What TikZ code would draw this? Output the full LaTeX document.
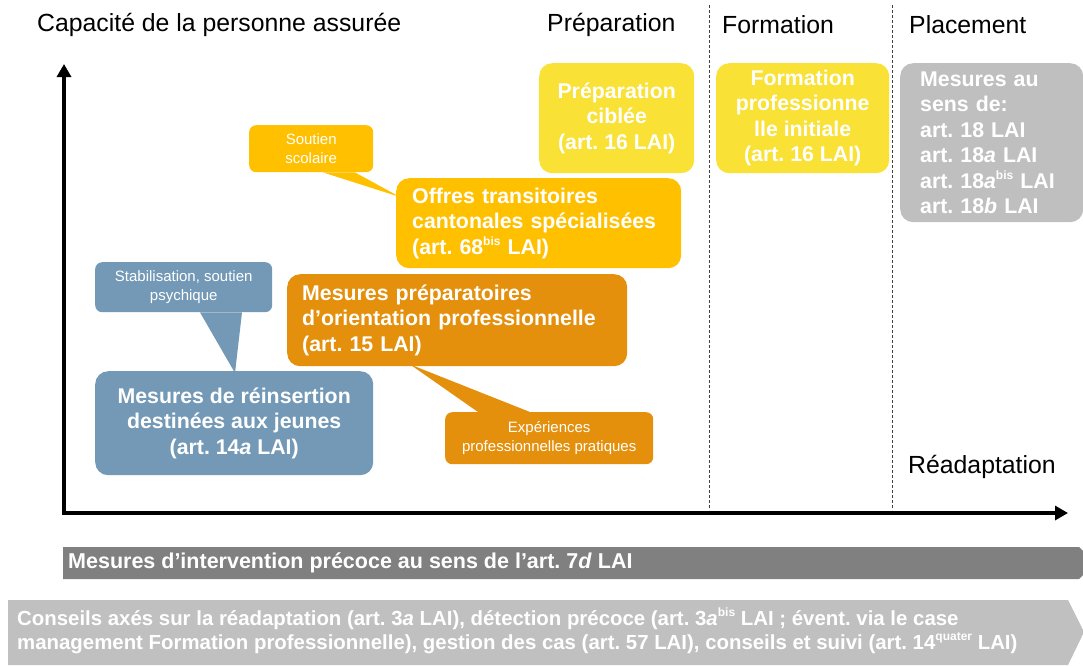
\documentclass[tikz,border=0pt]{standalone}
\usepackage{fontspec}
\setmainfont{Liberation Sans}
\usepackage{xcolor}
\usetikzlibrary{arrows.meta}

\definecolor{prepyellow}{RGB}{249,225,53}
\definecolor{offresorange}{RGB}{255,192,0}
\definecolor{orientorange}{RGB}{228,144,12}
\definecolor{jeunesblue}{RGB}{115,153,182}
\definecolor{placegray}{RGB}{191,191,191}
\definecolor{precocegray}{RGB}{128,128,128}
\definecolor{conseilgray}{RGB}{192,192,192}

\newcommand{\titlefont}{\fontsize{24.8}{28}\selectfont}
\newcommand{\boxfont}{\fontsize{21.3}{25.5}\selectfont\bfseries}
\newcommand{\notefont}{\fontsize{15}{18.5}\selectfont}
\newcommand{\barfont}{\fontsize{21.5}{25}\selectfont\bfseries}
\newcommand{\basefont}{\fontsize{20.4}{24}\selectfont\bfseries}
\newcommand{\exposant}[1]{\raisebox{0.42em}{\fontsize{12}{12}\selectfont #1}}

\begin{document}
\frenchspacing
\begin{tikzpicture}[x=1pt, y=-1pt,
    bigbox/.style={anchor=north west, rounded corners=13pt, text=white, font=\boxfont, inner sep=0pt},
    notebox/.style={anchor=north west, rounded corners=7pt, text=white, font=\notefont, inner sep=0pt, align=center},
    heading/.style={anchor=west, font=\titlefont, inner sep=0pt},
    sepline/.style={densely dashed, line width=1pt, black!75},
    axis/.style={line width=3.5pt, {Triangle[length=13pt,width=14pt]}-{Triangle[length=13pt,width=14pt]}}]

    \useasboundingbox (0,0) rectangle (1083,665);
    \clip (0,0) rectangle (1083,665);

    % headings
    \node[heading] (capacite) at (37,25) {Capacité de la personne assurée};
    \node[heading] (hprep) at (547,25) {Préparation};
    \node[heading] (hform) at (722,25) {Formation};
    \node[heading] (hplace) at (909,25) {Placement};
    \node[heading] (hreadapt) at (908,467) {Réadaptation};

    % phase separators
    \coordinate (sepA) at (709,5);
    \coordinate (sepA') at (709,510);
    \coordinate (sepB) at (892,5);
    \coordinate (sepB') at (892,510);
    \draw[sepline] (sepA) -- (sepA');
    \draw[sepline] (sepB) -- (sepB');

    % axes
    \coordinate (origin) at (64,513);
    \coordinate (ytip) at (64,64);
    \coordinate (xtip) at (1068,513);
    \draw[axis] (ytip) -- (origin) -- (xtip);

    % measures
    \node[bigbox, fill=prepyellow, align=center, minimum width=155pt, minimum height=110pt] (ciblee) at (539,63)
        {Préparation\\ciblée\\(art. 16 LAI)};
    \node[bigbox, fill=prepyellow, align=center, minimum width=173pt, minimum height=110pt] (initiale) at (716,63)
        {Formation\\professionne\\lle initiale\\(art. 16 LAI)};
    \node[bigbox, fill=placegray, align=left, text width=143pt, inner xsep=20pt, minimum height=159pt] (placement) at (900,63)
        {Mesures au\\sens de:\\art. 18 LAI\\art. 18\textit{a} LAI\\art. 18\textit{a}\exposant{bis} LAI\\art. 18\textit{b} LAI};
    \node[bigbox, fill=offresorange, align=left, text width=253pt, inner xsep=16pt, minimum height=90pt] (offres) at (396,178)
        {Offres transitoires\\cantonales spécialisées\\(art. 68\exposant{bis} LAI)};
    \node[bigbox, fill=orientorange, align=left, text width=310pt, inner xsep=15pt, minimum height=92pt] (orient) at (287,274)
        {Mesures préparatoires\\d’orientation professionnelle\\(art. 15 LAI)};
    \node[bigbox, fill=jeunesblue, align=center, minimum width=278pt, minimum height=104pt] (reinsertion) at (95,371)
        {Mesures de réinsertion\\destinées aux jeunes\\(art. 14\textit{a} LAI)};

    % callouts
    \node[notebox, fill=offresorange, minimum width=124pt, minimum height=47pt] (scolaire) at (249,125)
        {Soutien\\scolaire};
    \node[notebox, fill=jeunesblue, minimum width=177pt, minimum height=50pt] (psychique) at (95,262)
        {Stabilisation, soutien\\psychique};
    \node[notebox, fill=orientorange, minimum width=208pt, minimum height=52pt] (pratiques) at (445,412)
        {Expériences\\professionnelles pratiques};

    \fill[offresorange] ([xshift=74pt]scolaire.south west) -- ([xshift=106pt]scolaire.south west)
        -- ([xshift=4pt,yshift=-19pt]offres.north west) -- cycle;
    \fill[jeunesblue] ([xshift=105pt]psychique.south west) -- ([xshift=147pt]psychique.south west)
        -- ([xshift=140pt,yshift=-2pt]reinsertion.north west) -- cycle;
    \fill[orientorange] ([xshift=33pt]pratiques.north west) -- ([xshift=85pt]pratiques.north west)
        -- ([xshift=123pt,yshift=2pt]orient.south west) -- cycle;

    % bottom bars
    \fill[precocegray] (63,547) -- (1079,547) -- (1095,563) -- (1079,579) -- (63,579) -- cycle;
    \node[anchor=west, inner sep=0pt, text=white, font=\barfont] (precoce) at (68,563)
        {Mesures d’intervention précoce au sens de l’art. 7\textit{d} LAI};
    \fill[conseilgray] (8,600) -- (1068,600) -- (1084,632) -- (1068,665) -- (8,665) -- cycle;
    \node[anchor=west, inner sep=0pt, text=white, font=\basefont, align=left] (conseils) at (17,631)
        {Conseils axés sur la réadaptation (art. 3\textit{a} LAI), détection précoce (art. 3\textit{a}\exposant{bis} LAI ; évent. via le case\\
         management Formation professionnelle), gestion des cas (art. 57 LAI), conseils et suivi (art. 14\exposant{quater} LAI)};
\end{tikzpicture}
\end{document}
